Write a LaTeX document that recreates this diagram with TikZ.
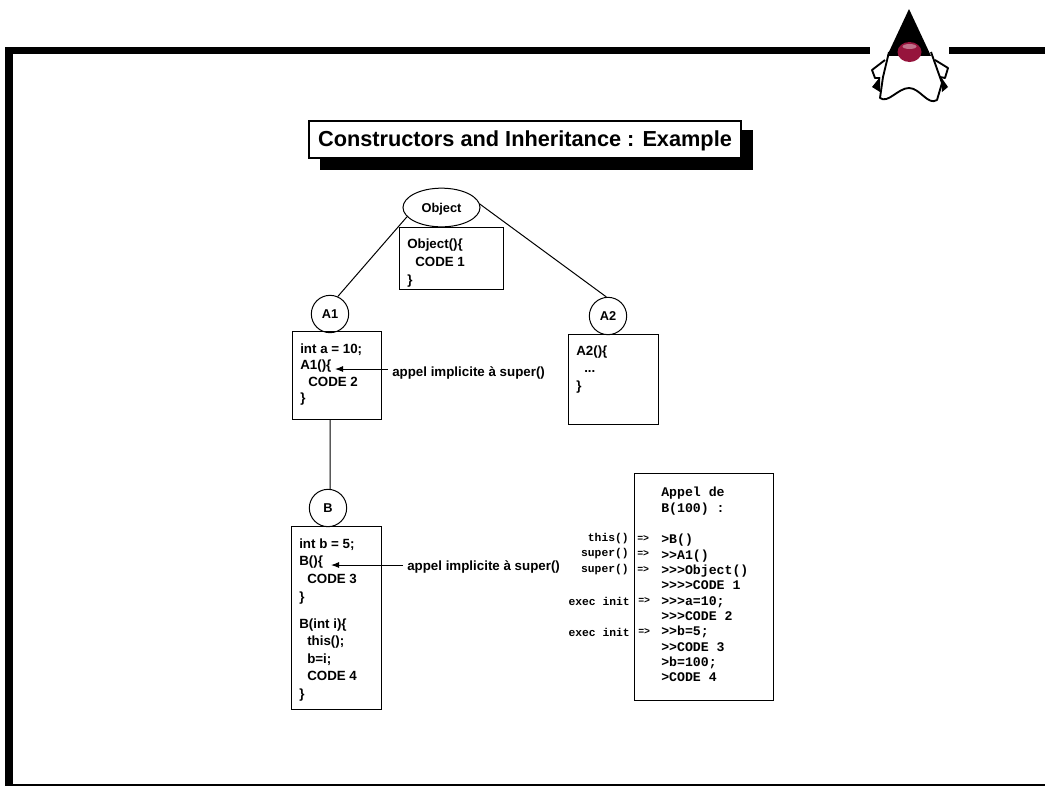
\documentclass[tikz,border=0pt]{standalone}
\usepackage{fontspec}
\setmainfont{Liberation Sans}
\setmonofont{Liberation Mono}
\usetikzlibrary{shapes.geometric,arrows.meta}
\tikzstyle{titlebox}=[draw,fill=white,line width=1.5pt,inner sep=0,minimum width=324pt,minimum height=27.75pt,text depth=0pt,font=\fontsize{16.3}{18}\bfseries]
\tikzstyle{n}=[draw,circle,inner sep=0,minimum size=28pt,line width=0.75pt,font=\fontsize{9.6}{10}\bfseries]
\tikzstyle{box}=[draw,rectangle,inner sep=0,line width=0.75pt]
\tikzstyle{code}=[anchor=west,align=left,inner sep=0,font=\fontsize{10}{13.2}\bfseries]
\tikzstyle{call}=[anchor=west,inner sep=3pt,font=\fontsize{10}{11}\bfseries]
\tikzstyle{trace}=[anchor=west,align=left,inner sep=0,font=\fontsize{9.9}{11.5}\ttfamily\bfseries]
\tikzstyle{step name}=[anchor=east,inner sep=0,font=\fontsize{8.5}{10}\ttfamily\bfseries]
\tikzstyle{imply}=[anchor=west,inner sep=0,font=\fontsize{7.4}{9}\ttfamily\bfseries]
\tikzstyle{link}=[line width=0.75pt]
\tikzstyle{back}=[line width=0.75pt,-{Latex[length=6pt,width=4.5pt]}]
\definecolor{dukered}{RGB}{150,20,60}
\newcommand{\tab}{\hspace*{6pt}}

\begin{document}
\begin{tikzpicture}[x=0.75pt,y=-0.75pt]
	\useasboundingbox (0,0) rectangle (1045,786);

	% page frame
	\fill (5,47) rectangle (870,54);
	\fill (949,47) rectangle (1045,54);
	\fill (5,47) rectangle (13,786);
	\fill (5,784) rectangle (1045,786);

	% logo
	\fill (909,9) -- (931,56) -- (887,56) -- cycle;
	\fill[white] (880,56) rectangle (938,70);
	\draw[line width=1.4pt,line join=round] (889,52) -- (883,77) -- (880,98)
		.. controls (888,104) and (898,88) .. (909,88)
		.. controls (920,88) and (928,106) .. (937,100)
		-- (942,83) -- (931,52);
	\draw[line width=1.4pt,line join=round] (885,60) -- (872,70) -- (875,78) -- (880,78);
	\draw[line width=1.4pt,line join=round] (935,60) -- (948,68) -- (945,78) -- (940,77);
	\fill (872,87) -- (880,77) -- (880,92) -- cycle;
	\fill (948,87) -- (941,77) -- (942,92) -- cycle;
	\fill[dukered] (909.5,52) ellipse (12 and 10);
	\fill[dukered!60!white] (909.5,46.5) ellipse (7 and 2.5);

	% title
	\fill (320,130) rectangle (753,170);
	\node[titlebox] (title) at (525,139) {Constructors and Inheritance : Example};

	% tree
	\node[draw,ellipse,inner sep=0,minimum width=57.75pt,minimum height=29pt,line width=0.75pt,text depth=0pt,font=\fontsize{9.6}{10}\bfseries] (object) at (441.5,207.5) {Object};
	\node[n] (a1) at (330,314) {A1};
	\node[n] (a2) at (608,316) {A2};
	\node[n] (b) at (328,508) {B};

	\node[box,minimum width=78pt,minimum height=46.5pt] (boxobject) at (451,258) {};
	\node[box,minimum width=66.75pt,minimum height=66pt] (boxa1) at (336.5,375) {};
	\node[box,minimum width=67.5pt,minimum height=67.5pt] (boxa2) at (613,379) {};
	\node[box,minimum width=67.5pt,minimum height=137.25pt] (boxb) at (336,617.5) {};
	\node[box,minimum width=104.25pt,minimum height=170.25pt] (boxcall) at (703.5,586.5) {};

	\draw[link]
	(object.195) -- (a1.66)
	(object.5) -- (a2.95)
	(boxa1.south -| a1) -- (a1 |- b.north)
	;

	% code in the boxes
	\node[code] (codeobject) at (407,263) {Object()\{\\\tab CODE 1\\\}};
	\node[code,font=\fontsize{10}{12.4}\bfseries] (codea1) at (300,374.5) {int a = 10;\\A1()\{\\\tab CODE 2\\\}};
	\node[code] (codea2) at (576,369.5) {A2()\{\\\tab ...\\\}};
	\node[code] (codeb) at (299,620) {int b = 5;\\B()\{\\\tab CODE 3\\\}\\[7pt]B(int i)\{\\\tab this();\\\tab b=i;\\\tab CODE 4\\\}};

	% implicit calls
	\coordinate (tipa1) at (335,369);
	\coordinate (tipb) at (331,565);
	\node[call] (calla1) at (388,373) {appel implicite à super()};
	\node[call] (callb) at (403,567) {appel implicite à super()};
	\draw[back] (calla1.west |- tipa1) -- (tipa1);
	\draw[back] (callb.west |- tipb) -- (tipb);

	% trace of the call
	\node[trace] (head) at (661,501) {Appel de\\B(100) :};
	\node[trace] (lines) at (661,608) {>B()\\>{}>A1()\\>{}>{}>Object()\\>{}>{}>{}>CODE 1\\>{}>{}>a=10;\\>{}>{}>CODE 2\\>{}>b=5;\\>{}>CODE 3\\>b=100;\\>CODE 4};

	\node[step name] (this) at (629,539) {this()};
	\node[step name] (supera) at (629,554) {super()};
	\node[step name] (superb) at (629,570) {super()};
	\node[step name] (inita) at (630,601) {exec init};
	\node[step name] (initb) at (630,632) {exec init};

	\node[imply] (gothis) at (637,539) {=>};
	\node[imply] (gosupera) at (637,554) {=>};
	\node[imply] (gosuperb) at (637,570) {=>};
	\node[imply] (goinita) at (638,601) {=>};
	\node[imply] (goinitb) at (638,632) {=>};

\end{tikzpicture}
\end{document}
